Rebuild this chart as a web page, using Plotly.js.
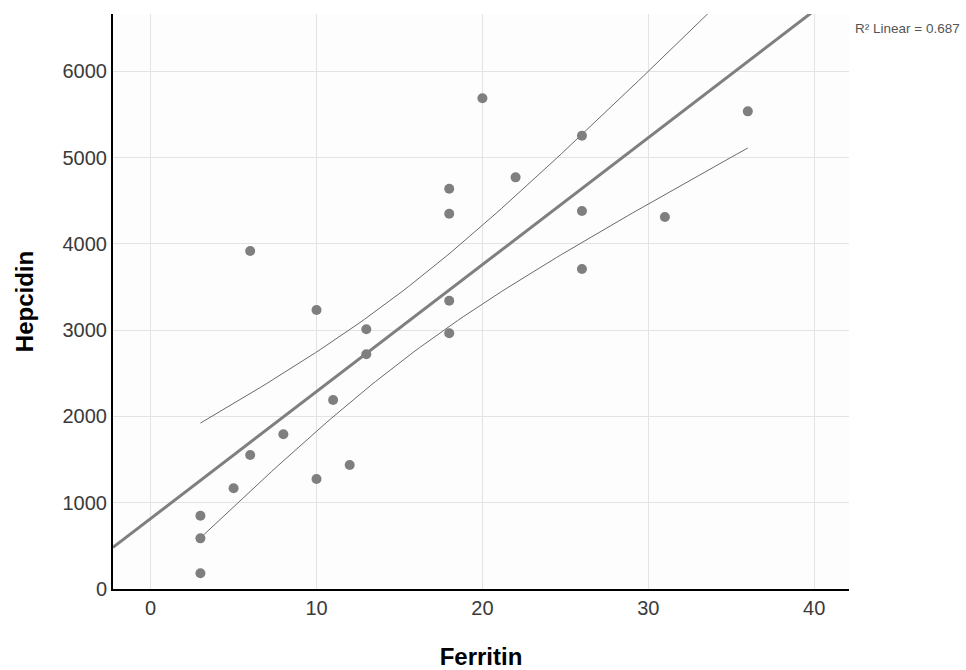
<!DOCTYPE html>
<html>
<head>
<meta charset="utf-8">
<script src="https://cdn.plot.ly/plotly-3.0.1.min.js"></script>
<style>html,body{margin:0;padding:0;background:#fff;}#chart{width:966px;height:670px;}</style>
</head>
<body>
<div id="chart"></div>
<script>
// Data
const ferritin = [10, 13, 13, 11, 8, 6, 5, 10, 12, 3, 3, 3, 6, 20, 26, 22, 18, 18, 26, 31, 26, 18, 18, 36];
const hepcidin = [3233, 3009, 2720, 2190, 1793, 1553, 1167, 1275, 1437, 849, 587, 182, 3917, 5686, 5253, 4770, 4638, 4349, 4380, 4311, 3708, 3341, 2963, 5535];
const xTicks = [0, 10, 20, 30, 40];
const yTicks = [0, 1000, 2000, 3000, 4000, 5000, 6000];
const r2Label = "R\u00b2 Linear = 0.687";

const X_RANGE = [-2.27, 42.1];
const Y_RANGE = [0, 6663];

// Least-squares fit and 95% mean confidence band
const n = ferritin.length;
const mx = ferritin.reduce((a, b) => a + b, 0) / n;
const my = hepcidin.reduce((a, b) => a + b, 0) / n;
let sxx = 0, sxy = 0;
for (let i = 0; i < n; i++) { sxx += (ferritin[i] - mx) ** 2; sxy += (ferritin[i] - mx) * (hepcidin[i] - my); }
const slope = sxy / sxx;
const intercept = my - slope * mx;
let sse = 0;
for (let i = 0; i < n; i++) { sse += (hepcidin[i] - (intercept + slope * ferritin[i])) ** 2; }
const s = Math.sqrt(sse / (n - 2));
const tCrit = 2.074; // t(0.975, df = 22)
const xmin = Math.min(...ferritin), xmax = Math.max(...ferritin);
const bandX = [], upper = [], lower = [];
const steps = 100;
for (let k = 0; k <= steps; k++) {
  const xv = xmin + (xmax - xmin) * k / steps;
  const yh = intercept + slope * xv;
  const hw = tCrit * s * Math.sqrt(1 / n + (xv - mx) ** 2 / sxx);
  bandX.push(xv); upper.push(yh + hw); lower.push(yh - hw);
}
const fitX = X_RANGE.slice();
const fitY = fitX.map(v => intercept + slope * v);

const grey = '#7f7f7f';
const traces = [
  { x: bandX, y: upper, mode: 'lines', line: { color: '#6a6a6a', width: 1 }, hoverinfo: 'skip', showlegend: false },
  { x: bandX, y: lower, mode: 'lines', line: { color: '#6a6a6a', width: 1 }, hoverinfo: 'skip', showlegend: false },
  { x: fitX, y: fitY, mode: 'lines', line: { color: grey, width: 3 }, showlegend: false },
  { x: ferritin, y: hepcidin, mode: 'markers', marker: { color: grey, size: 10 }, showlegend: false, cliponaxis: false }
];

const layout = {
  width: 966, height: 670,
  margin: { l: 113, r: 117, t: 14, b: 81 },
  paper_bgcolor: '#ffffff',
  plot_bgcolor: '#fdfdfd',
  font: { family: 'Liberation Sans, Arial, sans-serif', color: '#3a3a3a', size: 18 },
  showlegend: false,
  xaxis: {
    range: X_RANGE, tickvals: xTicks, ticktext: xTicks.map(String),
    showgrid: true, gridcolor: '#e3e3e3', gridwidth: 1, zeroline: false,
    showline: true, linecolor: '#000000', linewidth: 2, ticks: '',
    tickfont: { size: 20, color: '#3a3a3a' },
    title: { text: 'Ferritin', font: { size: 24, color: '#000000', family: 'Liberation Sans, Arial, sans-serif', weight: 'bold' }, standoff: 37 }
  },
  yaxis: {
    range: Y_RANGE, tickvals: yTicks, ticktext: yTicks.map(String),
    showgrid: true, gridcolor: '#e3e3e3', gridwidth: 1, zeroline: false,
    showline: true, linecolor: '#000000', linewidth: 2, ticks: '',
    tickfont: { size: 20, color: '#3a3a3a' },
    title: { text: 'Hepcidin', font: { size: 24, color: '#000000', family: 'Liberation Sans, Arial, sans-serif', weight: 'bold' }, standoff: 22 }
  },
  annotations: [
    { text: r2Label, xref: 'paper', yref: 'paper', x: 1.006, y: 0.975, xanchor: 'left', yanchor: 'middle', showarrow: false, font: { size: 13.5, color: '#555555' } }
  ]
};

Plotly.newPlot('chart', traces, layout, { displayModeBar: false, staticPlot: true });
</script>
</body>
</html>
